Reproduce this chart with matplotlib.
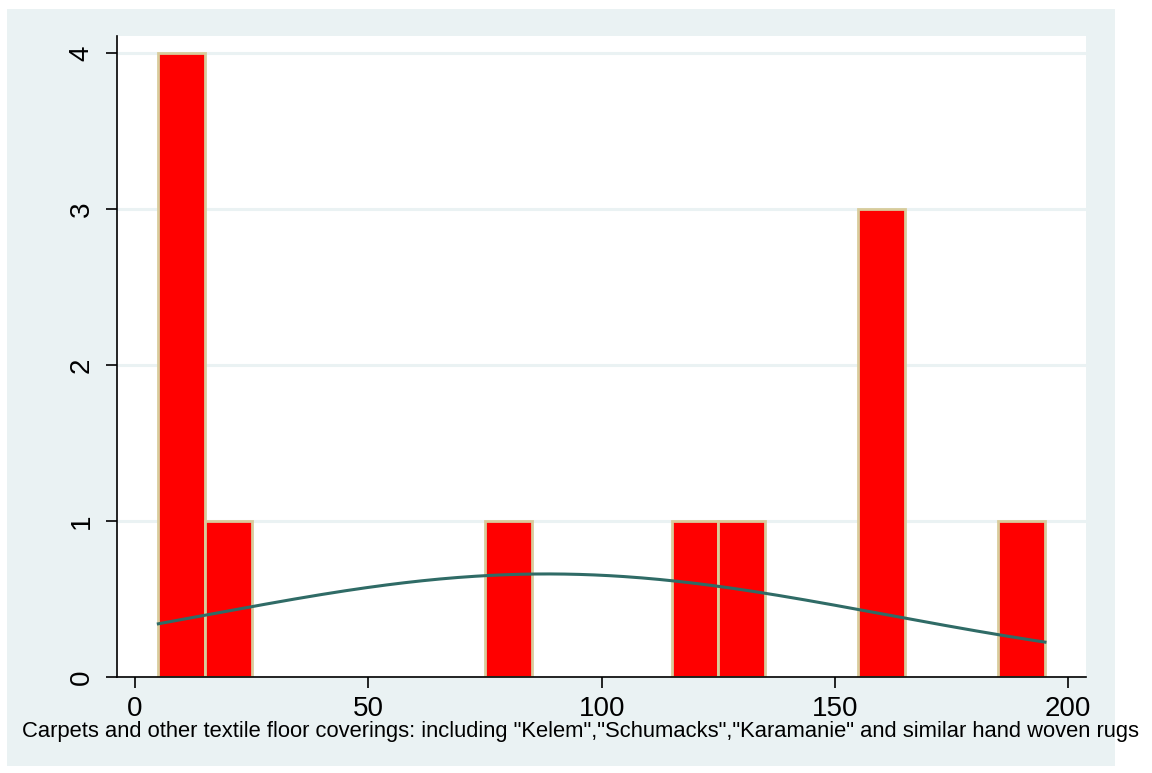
import numpy as np
import matplotlib.pyplot as plt
from matplotlib.patches import Rectangle

plt.rcParams['font.family'] = ['Liberation Sans', 'DejaVu Sans']

# histogram bins (width 10, starting at 5) and their frequencies
bin_start = 5
bin_width = 10
counts = [4, 1, 0, 0, 0, 0, 0, 1, 0, 0, 0, 1, 1, 0, 0, 3, 0, 0, 1]
x_ticks = [0, 50, 100, 150, 200]
y_ticks = [0, 1, 2, 3, 4]
xlabel = ('Carpets and other textile floor coverings: including "Kelem",'
          '"Schumacks","Karamanie" and similar hand woven rugs')

counts = np.array(counts)
lefts = bin_start + bin_width * np.arange(len(counts))
mids = lefts + bin_width / 2
n = counts.sum()
mu = (counts * mids).sum() / n
sd = np.sqrt((counts * (mids - mu) ** 2).sum() / (n - 1))

fig = plt.figure(figsize=(11.52, 7.73), dpi=100, facecolor='white')
# light graph-region background behind the plot area
fig.patches.append(Rectangle((7 / 1152, 1 - 766 / 773), 1108 / 1152, 757 / 773,
                             transform=fig.transFigure, facecolor='#eaf2f3',
                             edgecolor='none', zorder=-10))

ax = fig.add_axes([117 / 1152, 1 - 677 / 773, 969 / 1152, 641 / 773])
ax.set_zorder(1)
ax.set_facecolor('white')

nz = counts > 0
ax.bar(lefts[nz], counts[nz], width=bin_width, align='edge', color='#ff0000',
       edgecolor='#d8cc9c', linewidth=2, zorder=2)

xs = np.linspace(lefts[0], lefts[-1] + bin_width, 300)
dens = np.exp(-0.5 * ((xs - mu) / sd) ** 2) / (sd * np.sqrt(2 * np.pi))
ax.plot(xs, dens * n * bin_width, color='#2f6b66', linewidth=2.2, zorder=3)

ax.set_xlim(-3.86, 203.8)
ax.set_ylim(0, 4.109)
ax.set_xticks(x_ticks)
ax.set_yticks(y_ticks)
ax.grid(axis='y', color='#eaf2f3', linewidth=2.2, zorder=1)
ax.set_axisbelow(True)
for s in ['top', 'right']:
    ax.spines[s].set_visible(False)
for s in ['left', 'bottom']:
    ax.spines[s].set_linewidth(1.2)
ax.tick_params(axis='both', length=8, width=1.2, labelsize=20)
ax.tick_params(axis='x', pad=6)
ax.tick_params(axis='y', pad=8)
for lbl in ax.get_yticklabels():
    lbl.set_rotation(90)
    lbl.set_va('center')

fig.text(581 / 1152, 1 - 737 / 773, xlabel, ha='center', va='baseline',
         fontsize=15.85)

fig.savefig('out.png', dpi=100, facecolor='white')
